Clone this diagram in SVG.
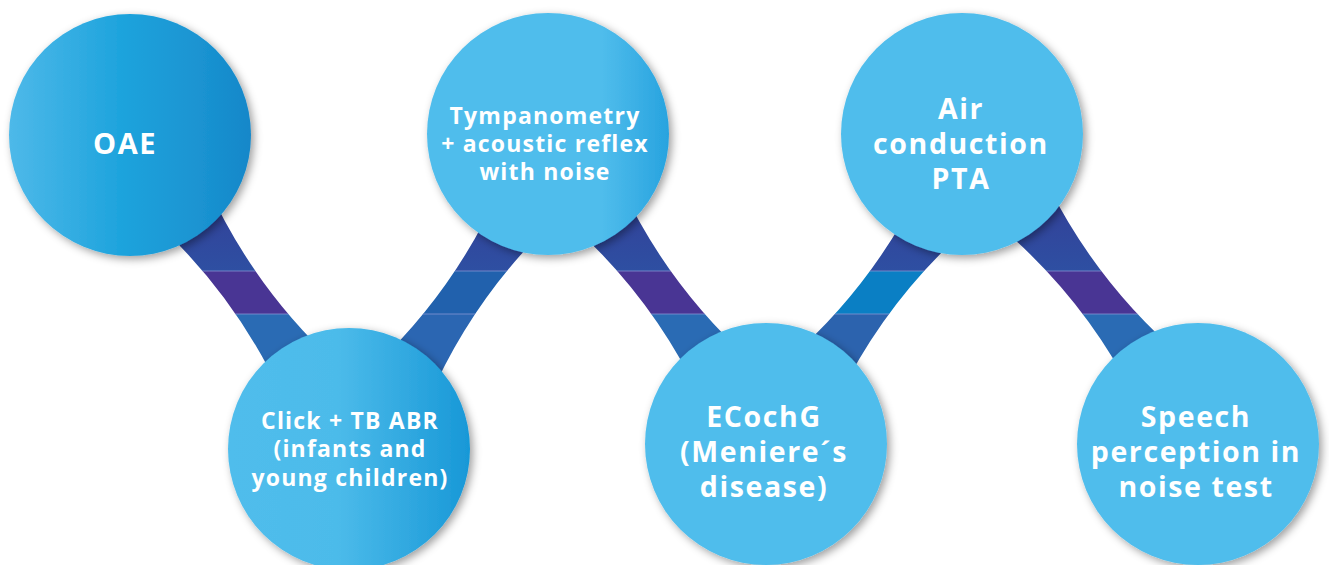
<svg xmlns="http://www.w3.org/2000/svg" xmlns:xlink="http://www.w3.org/1999/xlink" width="1329" height="565" viewBox="0 0 1329 565">
  <style>
    .lbl { font-family: "Open Sans", "Liberation Sans", sans-serif; font-weight: 700; fill: #ffffff; text-anchor: middle; }
    .big { font-size: 28.5px; letter-spacing: 1.6px; }
    .sm { font-size: 23px; letter-spacing: 1.2px; }
    .sep { stroke: #8593d4; stroke-width: 1.2; opacity: 0.8; }
    .flat { fill: #50bdec; }
  </style>
  <defs>
    <path id="bshape" d="M-31.7,-110 Q-9.3,0 -31.7,110 L31.7,110 Q9.3,0 31.7,-110 Z"/>
    <clipPath id="c1"><use xlink:href="#bshape" href="#bshape" transform="translate(245.5,292.5) rotate(-35.8)"/></clipPath>
    <clipPath id="c2"><use xlink:href="#bshape" href="#bshape" transform="translate(465,292.5) rotate(34.9)"/></clipPath>
    <clipPath id="c3"><use xlink:href="#bshape" href="#bshape" transform="translate(661,292.5) rotate(-36.7)"/></clipPath>
    <clipPath id="c4"><use xlink:href="#bshape" href="#bshape" transform="translate(879.5,292.5) rotate(37.5)"/></clipPath>
    <clipPath id="c5"><use xlink:href="#bshape" href="#bshape" transform="translate(1092,292.5) rotate(-38.3)"/></clipPath>
    <linearGradient id="topg" x1="0" y1="0" x2="0" y2="1">
      <stop offset="0" stop-color="#2e3288"/>
      <stop offset="0.5" stop-color="#32439a"/>
      <stop offset="1" stop-color="#2e4fa2"/>
    </linearGradient>
    <linearGradient id="gOAE" x1="0" y1="0" x2="1" y2="0">
      <stop offset="0" stop-color="#4eb9e9"/>
      <stop offset="0.45" stop-color="#1fa4dd"/>
      <stop offset="0.8" stop-color="#1a93d1"/>
      <stop offset="1" stop-color="#1387c9"/>
    </linearGradient>
    <linearGradient id="gTym" x1="0" y1="0" x2="1" y2="0">
      <stop offset="0" stop-color="#50bdec"/>
      <stop offset="0.72" stop-color="#50bdec"/>
      <stop offset="1" stop-color="#27a3df"/>
    </linearGradient>
    <linearGradient id="gABR" x1="0" y1="0" x2="1" y2="0">
      <stop offset="0" stop-color="#50bdec"/>
      <stop offset="0.45" stop-color="#4cbbea"/>
      <stop offset="1" stop-color="#1898d7"/>
    </linearGradient>
    <filter id="sh" x="-20%" y="-20%" width="150%" height="150%">
      <feDropShadow dx="3" dy="3" stdDeviation="4" flood-color="#000000" flood-opacity="0.38"/>
    </filter>
  </defs>

  <rect x="0" y="0" width="1329" height="565" fill="#ffffff"/>

  <g id="connectors">
    <g clip-path="url(#c1)">
      <rect x="130" y="150" width="240" height="121" fill="url(#topg)"/>
      <rect x="130" y="271" width="240" height="43" fill="#493594"/>
      <rect x="130" y="314" width="240" height="150" fill="#2a6bb4"/>
      <line class="sep" x1="130" y1="271" x2="370" y2="271"/>
      <line class="sep" x1="130" y1="314" x2="370" y2="314"/>
    </g>
    <g clip-path="url(#c2)">
      <rect x="360" y="150" width="220" height="121" fill="url(#topg)"/>
      <rect x="360" y="271" width="220" height="43" fill="#2161ad"/>
      <rect x="360" y="314" width="220" height="150" fill="#2b66b2"/>
      <line class="sep" x1="360" y1="271" x2="580" y2="271"/>
      <line class="sep" x1="360" y1="314" x2="580" y2="314"/>
    </g>
    <g clip-path="url(#c3)">
      <rect x="550" y="150" width="220" height="121" fill="url(#topg)"/>
      <rect x="550" y="271" width="220" height="43" fill="#493594"/>
      <rect x="550" y="314" width="220" height="150" fill="#2a6bb4"/>
      <line class="sep" x1="550" y1="271" x2="770" y2="271"/>
      <line class="sep" x1="550" y1="314" x2="770" y2="314"/>
    </g>
    <g clip-path="url(#c4)">
      <rect x="770" y="150" width="220" height="121" fill="url(#topg)"/>
      <rect x="770" y="271" width="220" height="43" fill="#0a7fc4"/>
      <rect x="770" y="314" width="220" height="150" fill="#2c63ae"/>
      <line class="sep" x1="770" y1="271" x2="990" y2="271"/>
      <line class="sep" x1="770" y1="314" x2="990" y2="314"/>
    </g>
    <g clip-path="url(#c5)">
      <rect x="980" y="150" width="230" height="121" fill="url(#topg)"/>
      <rect x="980" y="271" width="230" height="43" fill="#493594"/>
      <rect x="980" y="314" width="230" height="150" fill="#2a6bb4"/>
      <line class="sep" x1="980" y1="271" x2="1210" y2="271"/>
      <line class="sep" x1="980" y1="314" x2="1210" y2="314"/>
    </g>
  </g>

  <g id="node-oae">
    <circle cx="130" cy="135" r="121" fill="url(#gOAE)" filter="url(#sh)"/>
    <text class="lbl" x="125" y="154" style="font-size:29px;letter-spacing:1.5px">OAE</text>
  </g>

  <g id="node-tympanometry">
    <circle cx="548" cy="134" r="121" fill="url(#gTym)" filter="url(#sh)"/>
    <text class="lbl sm" x="545" y="124">Tympanometry</text>
    <text class="lbl sm" x="545" y="152">+ acoustic reflex</text>
    <text class="lbl sm" x="545" y="180">with noise</text>
  </g>

  <g id="node-air">
    <circle cx="962" cy="134" r="121" class="flat" filter="url(#sh)"/>
    <text class="lbl big" x="961" y="119">Air</text>
    <text class="lbl big" x="961" y="154">conduction</text>
    <text class="lbl big" x="961" y="189">PTA</text>
  </g>

  <g id="node-abr">
    <circle cx="349" cy="449" r="121" fill="url(#gABR)" filter="url(#sh)"/>
    <text class="lbl sm" x="350" y="429">Click + TB ABR</text>
    <text class="lbl sm" x="350" y="457">(infants and</text>
    <text class="lbl sm" x="350" y="486">young children)</text>
  </g>

  <g id="node-ecochg">
    <circle cx="766" cy="444" r="121" class="flat" filter="url(#sh)"/>
    <text class="lbl big" x="764" y="427">ECochG</text>
    <text class="lbl big" x="764" y="462">(Meniere´s</text>
    <text class="lbl big" x="764" y="497">disease)</text>
  </g>

  <g id="node-speech">
    <circle cx="1198" cy="444" r="121" class="flat" filter="url(#sh)"/>
    <text class="lbl big" x="1196" y="427">Speech</text>
    <text class="lbl big" x="1196" y="462">perception in</text>
    <text class="lbl big" x="1196" y="497">noise test</text>
  </g>
</svg>
